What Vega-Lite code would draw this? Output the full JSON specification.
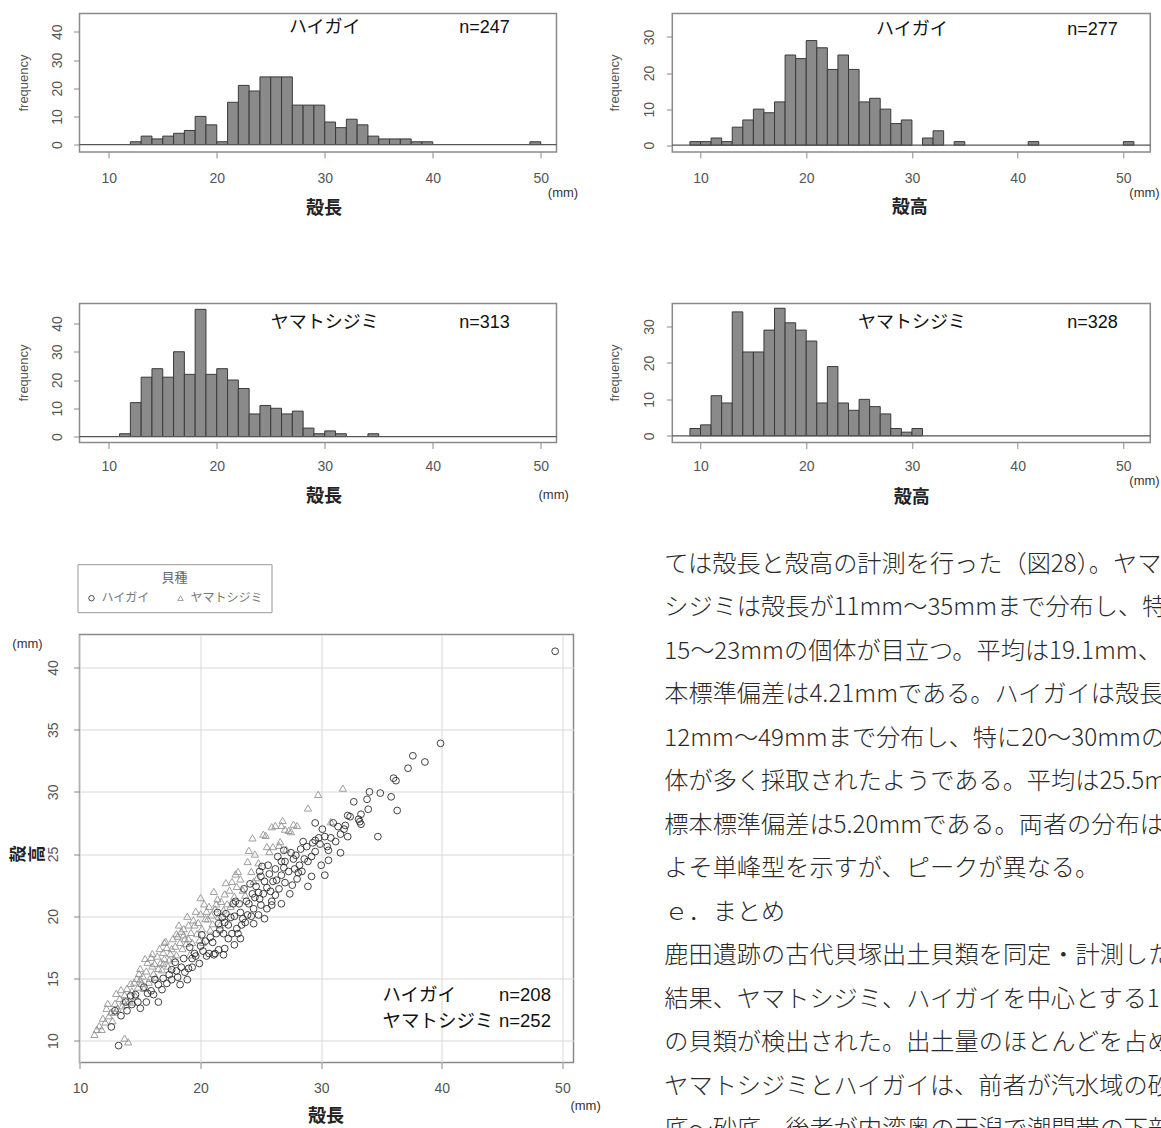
{
  "$schema": "https://vega.github.io/schema/vega-lite/v6.json",
  "background": "white",
  "padding": {"left": 8.5, "top": 12.5, "right": 0, "bottom": 0},
  "columns": 2,
  "spacing": {"row": 0, "column": 98.8},
  "bounds": "flush",
  "align": "each",
  "datasets": {
    "h1": [{"x0":12,"x1":13,"n":1},{"x0":13,"x1":14,"n":3},{"x0":14,"x1":15,"n":2},{"x0":15,"x1":16,"n":3},{"x0":16,"x1":17,"n":4},{"x0":17,"x1":18,"n":5},{"x0":18,"x1":19,"n":10},{"x0":19,"x1":20,"n":7},{"x0":20,"x1":21,"n":1},{"x0":21,"x1":22,"n":15},{"x0":22,"x1":23,"n":21},{"x0":23,"x1":24,"n":19},{"x0":24,"x1":25,"n":24},{"x0":25,"x1":26,"n":24},{"x0":26,"x1":27,"n":24},{"x0":27,"x1":28,"n":14},{"x0":28,"x1":29,"n":14},{"x0":29,"x1":30,"n":14},{"x0":30,"x1":31,"n":8},{"x0":31,"x1":32,"n":6},{"x0":32,"x1":33,"n":9},{"x0":33,"x1":34,"n":7},{"x0":34,"x1":35,"n":3},{"x0":35,"x1":36,"n":2},{"x0":36,"x1":37,"n":2},{"x0":37,"x1":38,"n":2},{"x0":38,"x1":39,"n":1},{"x0":39,"x1":40,"n":1},{"x0":49,"x1":50,"n":1}],
    "h2": [{"x0":9,"x1":10,"n":1},{"x0":10,"x1":11,"n":1},{"x0":11,"x1":12,"n":2},{"x0":12,"x1":13,"n":1},{"x0":13,"x1":14,"n":5},{"x0":14,"x1":15,"n":7},{"x0":15,"x1":16,"n":10},{"x0":16,"x1":17,"n":9},{"x0":17,"x1":18,"n":12},{"x0":18,"x1":19,"n":25},{"x0":19,"x1":20,"n":24},{"x0":20,"x1":21,"n":29},{"x0":21,"x1":22,"n":27},{"x0":22,"x1":23,"n":21},{"x0":23,"x1":24,"n":25},{"x0":24,"x1":25,"n":21},{"x0":25,"x1":26,"n":12},{"x0":26,"x1":27,"n":13},{"x0":27,"x1":28,"n":10},{"x0":28,"x1":29,"n":6},{"x0":29,"x1":30,"n":7},{"x0":31,"x1":32,"n":2},{"x0":32,"x1":33,"n":4},{"x0":34,"x1":35,"n":1},{"x0":41,"x1":42,"n":1},{"x0":50,"x1":51,"n":1}],
    "h3": [{"x0":11,"x1":12,"n":1},{"x0":12,"x1":13,"n":12},{"x0":13,"x1":14,"n":21},{"x0":14,"x1":15,"n":24},{"x0":15,"x1":16,"n":21},{"x0":16,"x1":17,"n":30},{"x0":17,"x1":18,"n":22},{"x0":18,"x1":19,"n":45},{"x0":19,"x1":20,"n":22},{"x0":20,"x1":21,"n":24},{"x0":21,"x1":22,"n":20},{"x0":22,"x1":23,"n":17},{"x0":23,"x1":24,"n":8},{"x0":24,"x1":25,"n":11},{"x0":25,"x1":26,"n":10},{"x0":26,"x1":27,"n":8},{"x0":27,"x1":28,"n":9},{"x0":28,"x1":29,"n":3},{"x0":29,"x1":30,"n":1},{"x0":30,"x1":31,"n":2},{"x0":31,"x1":32,"n":1},{"x0":34,"x1":35,"n":1}],
    "h4": [{"x0":9,"x1":10,"n":2},{"x0":10,"x1":11,"n":3},{"x0":11,"x1":12,"n":11},{"x0":12,"x1":13,"n":9},{"x0":13,"x1":14,"n":34},{"x0":14,"x1":15,"n":23},{"x0":15,"x1":16,"n":23},{"x0":16,"x1":17,"n":29},{"x0":17,"x1":18,"n":35},{"x0":18,"x1":19,"n":31},{"x0":19,"x1":20,"n":29},{"x0":20,"x1":21,"n":26},{"x0":21,"x1":22,"n":9},{"x0":22,"x1":23,"n":19},{"x0":23,"x1":24,"n":9},{"x0":24,"x1":25,"n":7},{"x0":25,"x1":26,"n":10},{"x0":26,"x1":27,"n":8},{"x0":27,"x1":28,"n":6},{"x0":28,"x1":29,"n":2},{"x0":29,"x1":30,"n":1},{"x0":30,"x1":31,"n":2}],
    "hai": [{"len":13.2,"ht":9.6},{"len":12.6,"ht":11.1},{"len":12.9,"ht":12.4},{"len":13.4,"ht":12.0},{"len":13.8,"ht":13.1},{"len":13.9,"ht":12.4},{"len":14.2,"ht":13.6},{"len":14.3,"ht":12.9},{"len":14.6,"ht":13.7},{"len":14.8,"ht":13.1},{"len":15.0,"ht":12.6},{"len":15.5,"ht":13.1},{"len":15.3,"ht":14.3},{"len":15.6,"ht":13.8},{"len":15.9,"ht":14.0},{"len":16.1,"ht":13.7},{"len":16.2,"ht":14.9},{"len":16.5,"ht":14.5},{"len":16.5,"ht":13.1},{"len":16.8,"ht":14.1},{"len":16.9,"ht":15.0},{"len":17.2,"ht":14.6},{"len":17.4,"ht":15.3},{"len":17.6,"ht":14.9},{"len":17.6,"ht":15.7},{"len":17.9,"ht":16.3},{"len":18.0,"ht":15.6},{"len":18.1,"ht":15.1},{"len":18.3,"ht":14.5},{"len":18.4,"ht":15.9},{"len":18.6,"ht":16.6},{"len":18.7,"ht":15.5},{"len":18.9,"ht":14.9},{"len":19.0,"ht":15.8},{"len":19.1,"ht":17.5},{"len":19.3,"ht":15.9},{"len":19.3,"ht":16.6},{"len":19.5,"ht":17.0},{"len":19.6,"ht":16.8},{"len":19.9,"ht":16.2},{"len":20.0,"ht":17.6},{"len":20.1,"ht":18.5},{"len":20.2,"ht":17.2},{"len":20.4,"ht":18.0},{"len":20.5,"ht":16.8},{"len":20.7,"ht":17.0},{"len":20.8,"ht":18.3},{"len":21.0,"ht":17.9},{"len":21.1,"ht":16.9},{"len":21.2,"ht":17.0},{"len":21.3,"ht":18.6},{"len":21.4,"ht":20.3},{"len":21.5,"ht":17.3},{"len":21.5,"ht":19.4},{"len":21.6,"ht":18.9},{"len":21.8,"ht":19.9},{"len":21.9,"ht":16.9},{"len":21.9,"ht":18.6},{"len":22.0,"ht":19.5},{"len":22.0,"ht":17.4},{"len":22.1,"ht":20.2},{"len":22.3,"ht":18.2},{"len":22.3,"ht":19.3},{"len":22.5,"ht":19.9},{"len":22.6,"ht":18.6},{"len":22.7,"ht":21.0},{"len":22.8,"ht":17.7},{"len":22.8,"ht":20.0},{"len":22.9,"ht":21.2},{"len":23.0,"ht":19.0},{"len":23.1,"ht":18.6},{"len":23.2,"ht":21.0},{"len":23.3,"ht":18.2},{"len":23.3,"ht":20.3},{"len":23.4,"ht":19.3},{"len":23.5,"ht":19.8},{"len":23.6,"ht":22.2},{"len":23.7,"ht":19.5},{"len":23.8,"ht":21.2},{"len":23.9,"ht":20.1},{"len":24.0,"ht":21.0},{"len":24.1,"ht":22.6},{"len":24.2,"ht":20.0},{"len":24.3,"ht":21.8},{"len":24.4,"ht":19.4},{"len":24.4,"ht":20.6},{"len":24.5,"ht":21.5},{"len":24.6,"ht":22.4},{"len":24.8,"ht":20.1},{"len":24.8,"ht":21.9},{"len":24.9,"ht":21.4},{"len":24.9,"ht":23.6},{"len":25.0,"ht":20.9},{"len":25.0,"ht":23.2},{"len":25.1,"ht":24.0},{"len":25.2,"ht":21.8},{"len":25.3,"ht":19.8},{"len":25.3,"ht":22.8},{"len":25.5,"ht":20.6},{"len":25.5,"ht":22.3},{"len":25.6,"ht":24.1},{"len":25.7,"ht":23.4},{"len":25.8,"ht":22.0},{"len":25.9,"ht":21.2},{"len":25.9,"ht":20.9},{"len":26.0,"ht":22.8},{"len":26.2,"ht":21.7},{"len":26.2,"ht":23.8},{"len":26.3,"ht":22.9},{"len":26.4,"ht":24.8},{"len":26.5,"ht":22.2},{"len":26.7,"ht":21.0},{"len":26.7,"ht":23.3},{"len":26.7,"ht":24.4},{"len":26.9,"ht":23.9},{"len":26.9,"ht":25.3},{"len":27.0,"ht":24.4},{"len":27.0,"ht":22.7},{"len":27.3,"ht":23.6},{"len":27.4,"ht":21.8},{"len":27.5,"ht":25.1},{"len":27.6,"ht":22.5},{"len":27.7,"ht":24.6},{"len":27.8,"ht":23.8},{"len":27.9,"ht":24.9},{"len":28.0,"ht":23.0},{"len":28.1,"ht":23.5},{"len":28.2,"ht":24.1},{"len":28.3,"ht":25.4},{"len":28.4,"ht":23.6},{"len":28.5,"ht":26.0},{"len":28.6,"ht":24.6},{"len":28.8,"ht":25.6},{"len":28.9,"ht":24.4},{"len":28.9,"ht":22.4},{"len":29.2,"ht":24.8},{"len":29.2,"ht":23.2},{"len":29.3,"ht":25.9},{"len":29.5,"ht":25.2},{"len":29.5,"ht":26.1},{"len":29.5,"ht":27.5},{"len":29.8,"ht":26.3},{"len":29.9,"ht":25.8},{"len":30.0,"ht":24.1},{"len":30.1,"ht":27.0},{"len":30.3,"ht":26.4},{"len":30.3,"ht":23.3},{"len":30.5,"ht":25.6},{"len":30.6,"ht":25.3},{"len":30.6,"ht":24.5},{"len":30.8,"ht":26.3},{"len":31.0,"ht":27.5},{"len":31.2,"ht":26.0},{"len":31.4,"ht":27.2},{"len":31.6,"ht":25.1},{"len":31.6,"ht":26.6},{"len":31.9,"ht":27.0},{"len":32.0,"ht":27.3},{"len":32.2,"ht":26.4},{"len":32.2,"ht":28.1},{"len":32.4,"ht":28.0},{"len":32.7,"ht":29.2},{"len":33.1,"ht":27.8},{"len":33.2,"ht":27.6},{"len":33.3,"ht":28.2},{"len":33.3,"ht":27.4},{"len":33.8,"ht":29.4},{"len":33.9,"ht":28.6},{"len":34.0,"ht":30.0},{"len":34.7,"ht":26.4},{"len":34.9,"ht":29.9},{"len":35.8,"ht":29.6},{"len":36.0,"ht":31.1},{"len":36.2,"ht":30.9},{"len":36.3,"ht":28.5},{"len":37.2,"ht":31.9},{"len":37.6,"ht":32.9},{"len":38.6,"ht":32.4},{"len":39.9,"ht":33.9},{"len":49.4,"ht":41.3}],
    "yam": [{"len":11.2,"ht":10.5},{"len":11.4,"ht":10.9},{"len":11.6,"ht":11.2},{"len":11.8,"ht":10.9},{"len":11.9,"ht":11.8},{"len":12.1,"ht":11.5},{"len":12.2,"ht":12.6},{"len":12.3,"ht":13.0},{"len":12.4,"ht":12.0},{"len":12.6,"ht":12.3},{"len":12.7,"ht":11.6},{"len":12.9,"ht":12.3},{"len":12.9,"ht":13.0},{"len":13.0,"ht":13.8},{"len":13.1,"ht":12.6},{"len":13.3,"ht":13.4},{"len":13.4,"ht":14.1},{"len":13.5,"ht":12.8},{"len":13.6,"ht":13.2},{"len":13.7,"ht":13.7},{"len":13.7,"ht":10.2},{"len":13.8,"ht":12.9},{"len":13.9,"ht":14.2},{"len":14.0,"ht":9.9},{"len":14.1,"ht":13.2},{"len":14.2,"ht":14.6},{"len":14.3,"ht":14.0},{"len":14.4,"ht":13.1},{"len":14.5,"ht":14.7},{"len":14.6,"ht":13.6},{"len":14.7,"ht":15.0},{"len":14.8,"ht":14.3},{"len":14.9,"ht":15.4},{"len":15.0,"ht":15.8},{"len":15.0,"ht":14.9},{"len":15.1,"ht":14.6},{"len":15.2,"ht":15.2},{"len":15.3,"ht":14.2},{"len":15.4,"ht":16.6},{"len":15.5,"ht":15.6},{"len":15.6,"ht":16.3},{"len":15.7,"ht":14.7},{"len":15.8,"ht":15.0},{"len":15.9,"ht":16.7},{"len":16.0,"ht":16.0},{"len":16.0,"ht":17.0},{"len":16.1,"ht":15.4},{"len":16.2,"ht":16.2},{"len":16.3,"ht":15.1},{"len":16.4,"ht":16.8},{"len":16.5,"ht":15.8},{"len":16.6,"ht":17.4},{"len":16.7,"ht":16.3},{"len":16.8,"ht":15.7},{"len":16.9,"ht":17.1},{"len":16.9,"ht":16.2},{"len":17.0,"ht":16.6},{"len":17.0,"ht":17.9},{"len":17.1,"ht":18.0},{"len":17.2,"ht":17.5},{"len":17.3,"ht":16.0},{"len":17.4,"ht":16.5},{"len":17.5,"ht":17.0},{"len":17.6,"ht":17.4},{"len":17.7,"ht":18.2},{"len":17.8,"ht":16.6},{"len":17.9,"ht":17.6},{"len":18.0,"ht":16.9},{"len":18.0,"ht":18.6},{"len":18.1,"ht":18.4},{"len":18.2,"ht":19.3},{"len":18.3,"ht":17.9},{"len":18.4,"ht":18.8},{"len":18.5,"ht":17.4},{"len":18.6,"ht":19.0},{"len":18.6,"ht":18.5},{"len":18.7,"ht":18.2},{"len":18.8,"ht":17.8},{"len":18.9,"ht":20.0},{"len":19.0,"ht":19.3},{"len":19.0,"ht":18.2},{"len":19.1,"ht":16.9},{"len":19.2,"ht":18.7},{"len":19.3,"ht":17.9},{"len":19.4,"ht":19.7},{"len":19.5,"ht":19.3},{"len":19.6,"ht":20.4},{"len":19.7,"ht":18.6},{"len":19.8,"ht":19.5},{"len":19.9,"ht":18.1},{"len":20.0,"ht":20.2},{"len":20.0,"ht":21.5},{"len":20.1,"ht":19.0},{"len":20.2,"ht":17.9},{"len":20.3,"ht":21.0},{"len":20.4,"ht":19.8},{"len":20.5,"ht":20.4},{"len":20.6,"ht":19.8},{"len":20.7,"ht":20.8},{"len":20.8,"ht":18.9},{"len":20.9,"ht":20.1},{"len":21.0,"ht":19.4},{"len":21.1,"ht":22.0},{"len":21.2,"ht":20.6},{"len":21.3,"ht":21.0},{"len":21.4,"ht":21.4},{"len":21.5,"ht":20.0},{"len":21.6,"ht":19.3},{"len":21.7,"ht":21.2},{"len":21.9,"ht":20.5},{"len":22.0,"ht":21.8},{"len":22.1,"ht":22.7},{"len":22.2,"ht":21.0},{"len":22.4,"ht":22.1},{"len":22.5,"ht":20.8},{"len":22.6,"ht":22.8},{"len":22.8,"ht":21.6},{"len":22.9,"ht":23.4},{"len":23.0,"ht":22.4},{"len":23.1,"ht":23.6},{"len":23.3,"ht":23.0},{"len":23.5,"ht":22.1},{"len":23.7,"ht":21.7},{"len":23.9,"ht":24.4},{"len":24.0,"ht":25.3},{"len":24.2,"ht":23.6},{"len":24.3,"ht":26.3},{"len":24.4,"ht":22.8},{"len":24.5,"ht":25.0},{"len":24.7,"ht":23.1},{"len":24.8,"ht":24.3},{"len":25.2,"ht":26.6},{"len":25.4,"ht":26.5},{"len":25.5,"ht":25.6},{"len":25.7,"ht":25.2},{"len":25.9,"ht":27.2},{"len":26.0,"ht":25.6},{"len":26.2,"ht":27.3},{"len":26.5,"ht":25.7},{"len":26.6,"ht":26.0},{"len":26.7,"ht":27.3},{"len":26.8,"ht":27.7},{"len":27.0,"ht":27.0},{"len":27.1,"ht":25.4},{"len":27.3,"ht":26.9},{"len":27.5,"ht":26.8},{"len":27.7,"ht":27.4},{"len":28.0,"ht":27.3},{"len":28.9,"ht":28.7},{"len":29.75,"ht":29.8},{"len":30.8,"ht":27.6},{"len":31.8,"ht":30.3}],
    "body": [
      {"line":0,"text":"ては殻長と殻高の計測を行った（図28）。ヤマト"},
      {"line":1,"text":"シジミは殻長が11mm～35mmまで分布し、特に"},
      {"line":2,"text":"15～23mmの個体が目立つ。平均は19.1mm、標"},
      {"line":3,"text":"本標準偏差は4.21mmである。ハイガイは殻長が"},
      {"line":4,"text":"12mm～49mmまで分布し、特に20～30mmの個"},
      {"line":5,"text":"体が多く採取されたようである。平均は25.5mm、"},
      {"line":6,"text":"標本標準偏差は5.20mmである。両者の分布はお"},
      {"line":7,"text":"よそ単峰型を示すが、ピークが異なる。"},
      {"line":8,"text":"ｅ．まとめ"},
      {"line":9,"text":"　鹿田遺跡の古代貝塚出土貝類を同定・計測した"},
      {"line":10,"text":"結果、ヤマトシジミ、ハイガイを中心とする11種"},
      {"line":11,"text":"の貝類が検出された。出土量のほとんどを占める"},
      {"line":12,"text":"ヤマトシジミとハイガイは、前者が汽水域の砂泥"},
      {"line":13,"text":"底～砂底、後者が内湾奥の干潟で潮間帯の下部"}
    ]
  },
  "concat": [
    {
      "width": 477, "height": 138.4,
      "layer": [
        {"data": {"name": "h1"}, "mark": {"type": "bar", "fill": "#8a8a8a", "stroke": "#3a3a3a", "strokeWidth": 1},
         "encoding": {
           "x": {"field": "x0", "type": "quantitative", "scale": {"domain": [7.29, 51.46], "nice": false, "zero": false},
                 "axis": {"values": [10,20,30,40,50], "tickCount": 10, "title": "殻長", "labelPadding": 21, "titleX": 244, "titleY": 57}},
           "x2": {"field": "x1"},
           "y": {"field": "n", "type": "quantitative", "scale": {"domain": [-2.6, 46.5], "nice": false, "zero": false},
                 "axis": {"values": [0,10,20,30,40], "tickCount": 10, "title": "frequency", "titleFont": "Liberation Sans", "titleFontSize": 13, "titleFontWeight": "normal", "titleColor": "#555", "titleX": -56, "titleY": 69}},
           "y2": {"datum": 0}
         }},
        {"data": {"values": [{}]}, "mark": {"type": "rule", "color": "#555", "strokeWidth": 1.3}, "encoding": {"y": {"datum": 0}}},
        {"data": {"values": [{"t": "ハイガイ"}]}, "mark": {"type": "text", "font": "Noto Sans CJK JP", "fontSize": 18, "color": "#111"}, "encoding": {"x": {"datum": 30}, "y": {"datum": 41.3}, "text": {"field": "t"}}},
        {"data": {"values": [{"t": "n=247"}]}, "mark": {"type": "text", "font": "Liberation Sans Narrow, Liberation Sans", "fontSize": 18, "color": "#111"}, "encoding": {"x": {"datum": 44.8}, "y": {"datum": 41.3}, "text": {"field": "t"}}},
        {"data": {"values": [{"t": "(mm)"}]}, "mark": {"type": "text", "font": "Liberation Sans Narrow, Liberation Sans", "fontSize": 13, "color": "#333"}, "encoding": {"x": {"datum": 52.06}, "y": {"datum": -17.3}, "text": {"field": "t"}}}
      ]
    },
    {
      "width": 478, "height": 138.4,
      "layer": [
        {"data": {"name": "h2"}, "mark": {"type": "bar", "fill": "#8a8a8a", "stroke": "#3a3a3a", "strokeWidth": 1},
         "encoding": {
           "x": {"field": "x0", "type": "quantitative", "scale": {"domain": [7.33, 52.55], "nice": false, "zero": false},
                 "axis": {"values": [10,20,30,40,50], "tickCount": 10, "title": "殻高", "labelPadding": 21, "titleX": 237, "titleY": 56}},
           "x2": {"field": "x1"},
           "y": {"field": "n", "type": "quantitative", "scale": {"domain": [-1.85, 36.5], "nice": false, "zero": false},
                 "axis": {"values": [0,10,20,30], "tickCount": 10, "title": "frequency", "titleFont": "Liberation Sans", "titleFontSize": 13, "titleFontWeight": "normal", "titleColor": "#555", "titleX": -57.5, "titleY": 69}},
           "y2": {"datum": 0}
         }},
        {"data": {"values": [{}]}, "mark": {"type": "rule", "color": "#555", "strokeWidth": 1.3}, "encoding": {"y": {"datum": 0}}},
        {"data": {"values": [{"t": "ハイガイ"}]}, "mark": {"type": "text", "font": "Noto Sans CJK JP", "fontSize": 18, "color": "#111"}, "encoding": {"x": {"datum": 30}, "y": {"datum": 31.9}, "text": {"field": "t"}}},
        {"data": {"values": [{"t": "n=277"}]}, "mark": {"type": "text", "font": "Liberation Sans Narrow, Liberation Sans", "fontSize": 18, "color": "#111"}, "encoding": {"x": {"datum": 47.08}, "y": {"datum": 31.9}, "text": {"field": "t"}}},
        {"data": {"values": [{"t": "(mm)"}]}, "mark": {"type": "text", "font": "Liberation Sans Narrow, Liberation Sans", "fontSize": 13, "color": "#333"}, "encoding": {"x": {"datum": 52.0}, "y": {"datum": -13.3}, "text": {"field": "t"}}}
      ]
    },
    {"width": 1, "height": 150.3, "view": {"stroke": null}, "data": {"values": [{}]}, "mark": {"type": "point", "opacity": 0}},
    {"width": 1, "height": 150.3, "view": {"stroke": null}, "data": {"values": [{}]}, "mark": {"type": "point", "opacity": 0}},
    {
      "width": 477, "height": 139,
      "layer": [
        {"data": {"name": "h3"}, "mark": {"type": "bar", "fill": "#8a8a8a", "stroke": "#3a3a3a", "strokeWidth": 1},
         "encoding": {
           "x": {"field": "x0", "type": "quantitative", "scale": {"domain": [7.29, 51.46], "nice": false, "zero": false},
                 "axis": {"values": [10,20,30,40,50], "tickCount": 10, "title": "殻長", "labelPadding": 18, "titleX": 244, "titleY": 54}},
           "x2": {"field": "x1"},
           "y": {"field": "n", "type": "quantitative", "scale": {"domain": [-2.1, 47.06], "nice": false, "zero": false},
                 "axis": {"values": [0,10,20,30,40], "tickCount": 10, "title": "frequency", "titleFont": "Liberation Sans", "titleFontSize": 13, "titleFontWeight": "normal", "titleColor": "#555", "titleX": -56, "titleY": 69}},
           "y2": {"datum": 0}
         }},
        {"data": {"values": [{}]}, "mark": {"type": "rule", "color": "#555", "strokeWidth": 1.3}, "encoding": {"y": {"datum": 0}}},
        {"data": {"values": [{"t": "ヤマトシジミ"}]}, "mark": {"type": "text", "font": "Noto Sans CJK JP", "fontSize": 18, "color": "#111"}, "encoding": {"x": {"datum": 30}, "y": {"datum": 40.1}, "text": {"field": "t"}}},
        {"data": {"values": [{"t": "n=313"}]}, "mark": {"type": "text", "font": "Liberation Sans Narrow, Liberation Sans", "fontSize": 18, "color": "#111"}, "encoding": {"x": {"datum": 44.8}, "y": {"datum": 40.1}, "text": {"field": "t"}}},
        {"data": {"values": [{"t": "(mm)"}]}, "mark": {"type": "text", "font": "Liberation Sans Narrow, Liberation Sans", "fontSize": 13, "color": "#333"}, "encoding": {"x": {"datum": 51.2}, "y": {"datum": -20.5}, "text": {"field": "t"}}}
      ]
    },
    {
      "width": 478, "height": 139,
      "layer": [
        {"data": {"name": "h4"}, "mark": {"type": "bar", "fill": "#8a8a8a", "stroke": "#3a3a3a", "strokeWidth": 1},
         "encoding": {
           "x": {"field": "x0", "type": "quantitative", "scale": {"domain": [7.33, 52.55], "nice": false, "zero": false},
                 "axis": {"values": [10,20,30,40,50], "tickCount": 10, "title": "殻高", "labelPadding": 18, "titleX": 239, "titleY": 55}},
           "x2": {"field": "x1"},
           "y": {"field": "n", "type": "quantitative", "scale": {"domain": [-1.84, 36.3], "nice": false, "zero": false},
                 "axis": {"values": [0,10,20,30], "tickCount": 10, "title": "frequency", "titleFont": "Liberation Sans", "titleFontSize": 13, "titleFontWeight": "normal", "titleColor": "#555", "titleX": -57.5, "titleY": 69}},
           "y2": {"datum": 0}
         }},
        {"data": {"values": [{}]}, "mark": {"type": "rule", "color": "#555", "strokeWidth": 1.3}, "encoding": {"y": {"datum": 0}}},
        {"data": {"values": [{"t": "ヤマトシジミ"}]}, "mark": {"type": "text", "font": "Noto Sans CJK JP", "fontSize": 18, "color": "#111"}, "encoding": {"x": {"datum": 30}, "y": {"datum": 30.9}, "text": {"field": "t"}}},
        {"data": {"values": [{"t": "n=328"}]}, "mark": {"type": "text", "font": "Liberation Sans Narrow, Liberation Sans", "fontSize": 18, "color": "#111"}, "encoding": {"x": {"datum": 47.08}, "y": {"datum": 30.9}, "text": {"field": "t"}}},
        {"data": {"values": [{"t": "(mm)"}]}, "mark": {"type": "text", "font": "Liberation Sans Narrow, Liberation Sans", "fontSize": 13, "color": "#333"}, "encoding": {"x": {"datum": 52.0}, "y": {"datum": -12.5}, "text": {"field": "t"}}}
      ]
    },
    {"width": 1, "height": 192, "view": {"stroke": null}, "data": {"values": [{}]}, "mark": {"type": "point", "opacity": 0}},
    {"width": 1, "height": 192, "view": {"stroke": null}, "data": {"values": [{}]}, "mark": {"type": "point", "opacity": 0}},
    {
      "width": 494, "height": 428,
      "layer": [
        {"data": {"name": "yam"}, "mark": {"type": "point", "filled": false, "size": 52, "strokeWidth": 1, "opacity": 0.85},
         "encoding": {
           "x": {"field": "len", "type": "quantitative", "scale": {"domain": [9.96, 50.92], "nice": false, "zero": false},
                 "axis": {"values": [10,20,30,40,50], "tickCount": 10, "title": "殻長", "grid": true, "labelPadding": 20, "titleX": 246, "titleY": 54}},
           "y": {"field": "ht", "type": "quantitative", "scale": {"domain": [8.24, 42.65], "nice": false, "zero": false},
                 "axis": {"values": [10,15,20,25,30,35,40], "tickCount": 12, "title": ["殻", "高"], "grid": true, "labelPadding": 20, "titleAngle": 0, "titleX": -61, "titleY": 219, "titleFontSize": 17, "titleLineHeight": 19}},
           "color": {"datum": "ヤマトシジミ", "type": "nominal", "scale": {"domain": ["ハイガイ", "ヤマトシジミ"], "range": ["#2e2e2e", "#8f8f8f"]},
                     "legend": {"title": "貝種", "orient": "none", "legendX": -2, "legendY": 550.7, "direction": "horizontal", "columns": 2}},
           "shape": {"datum": "ヤマトシジミ", "type": "nominal", "scale": {"domain": ["ハイガイ", "ヤマトシジミ"], "range": ["circle", "triangle-up"]},
                     "legend": {"title": "貝種", "orient": "none", "legendX": -2, "legendY": 550.7, "direction": "horizontal", "columns": 2}}
         }},
        {"data": {"name": "hai"}, "mark": {"type": "point", "filled": false, "size": 46, "strokeWidth": 1, "opacity": 0.9},
         "encoding": {
           "x": {"field": "len", "type": "quantitative"},
           "y": {"field": "ht", "type": "quantitative"},
           "color": {"datum": "ハイガイ", "type": "nominal"},
           "shape": {"datum": "ハイガイ", "type": "nominal"}
         }},
        {"data": {"values": [{"t": "ハイガイ"}]}, "mark": {"type": "text", "align": "left", "font": "Noto Sans CJK JP", "fontSize": 18.5, "color": "#111"}, "encoding": {"x": {"datum": 35.08}, "y": {"datum": 13.69}, "text": {"field": "t"}}},
        {"data": {"values": [{"t": "n=208"}]}, "mark": {"type": "text", "align": "left", "font": "Liberation Sans Narrow, Liberation Sans", "fontSize": 18.5, "color": "#111"}, "encoding": {"x": {"datum": 44.74}, "y": {"datum": 13.69}, "text": {"field": "t"}}},
        {"data": {"values": [{"t": "ヤマトシジミ"}]}, "mark": {"type": "text", "align": "left", "font": "Noto Sans CJK JP", "fontSize": 18.5, "color": "#111"}, "encoding": {"x": {"datum": 35.08}, "y": {"datum": 11.54}, "text": {"field": "t"}}},
        {"data": {"values": [{"t": "n=252"}]}, "mark": {"type": "text", "align": "left", "font": "Liberation Sans Narrow, Liberation Sans", "fontSize": 18.5, "color": "#111"}, "encoding": {"x": {"datum": 44.74}, "y": {"datum": 11.54}, "text": {"field": "t"}}},
        {"data": {"values": [{"t": "(mm)"}]}, "mark": {"type": "text", "font": "Liberation Sans Narrow, Liberation Sans", "fontSize": 13, "color": "#333"}, "encoding": {"x": {"datum": 51.92}, "y": {"datum": 4.71}, "text": {"field": "t"}}},
        {"data": {"values": [{"t": "(mm)"}]}, "mark": {"type": "text", "font": "Liberation Sans Narrow, Liberation Sans", "fontSize": 13, "color": "#333"}, "encoding": {"x": {"datum": 5.65}, "y": {"datum": 41.85}, "text": {"field": "t"}}}
      ]
    },
    {
      "width": 498, "height": 428,
      "view": {"stroke": null},
      "data": {"name": "body"},
      "mark": {"type": "text", "align": "left", "baseline": "middle", "font": "Noto Sans CJK JP", "fontSize": 24.2, "fontWeight": 300, "color": "#2a2a2a", "dx": -8},
      "encoding": {
        "y": {"field": "line", "type": "quantitative", "scale": {"domain": [1.609, 11.448], "reverse": true, "nice": false, "zero": false}, "axis": null},
        "x": {"datum": 0, "type": "quantitative", "scale": {"domain": [0, 1]}, "axis": null},
        "text": {"field": "text"}
      }
    }
  ],
  "config": {
    "view": {"stroke": "#8a8a8a", "strokeWidth": 1.5},
    "axis": {"domain": false, "grid": false, "gridColor": "#d8d8d8", "gridWidth": 1, "tickColor": "#8a8a8a", "tickSize": 6, "tickWidth": 1, "labelFont": "Liberation Sans", "labelFontSize": 14, "labelColor": "#555", "labelFlush": false, "labelOverlap": false, "titleFont": "Noto Sans CJK JP", "titleFontSize": 18, "titleFontWeight": "bold", "titleColor": "#222", "titleAlign": "center", "titleBaseline": "middle"},
    "axisX": {"labelAngle": 0, "labelBaseline": "middle", "titleAngle": 0},
    "axisY": {"labelAngle": 270, "labelAlign": "center", "labelBaseline": "middle", "labelPadding": 16.5, "titleAngle": 270},
    "legend": {"titleFont": "Noto Sans CJK JP", "titleFontSize": 13, "titleFontWeight": "normal", "titleColor": "#666", "titleAnchor": "middle", "titlePadding": 7, "labelFont": "Noto Sans CJK JP", "labelFontSize": 12, "labelColor": "#777", "strokeColor": "#999", "fillColor": "white", "padding": 8, "columnPadding": 24, "symbolSize": 30, "symbolStrokeWidth": 1, "labelOffset": 4}
  }
}
